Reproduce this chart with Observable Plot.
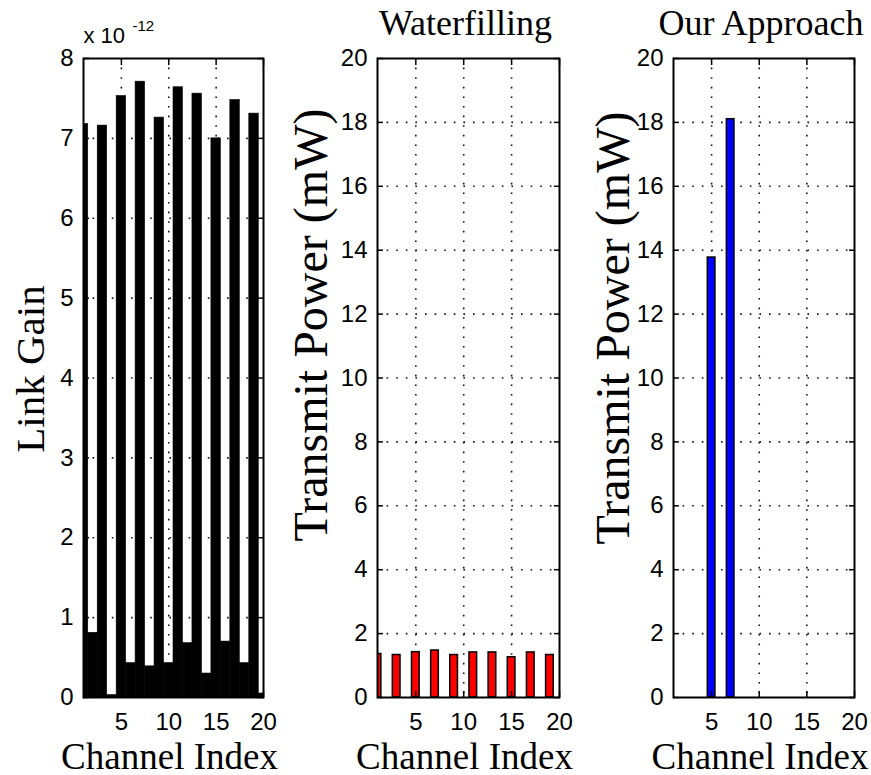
<!DOCTYPE html>
<html><head><meta charset="utf-8">
<script src="https://cdn.jsdelivr.net/npm/d3@7"></script>
<script src="https://cdn.jsdelivr.net/npm/@observablehq/plot@0.6"></script>
<style>
body{margin:0;background:#fff;}
#wrap{position:relative;width:871px;height:775px;overflow:hidden;background:#fff;}
#wrap > svg{position:absolute;top:0;}
</style></head><body><div id="wrap"></div>
<script>
// Channel indices
const channels = [1,2,3,4,5,6,7,8,9,10,11,12,13,14,15,16,17,18,19,20];
// Link gain (x 10^-12)
const linkGain = [7.18,0.81,7.16,0.03,7.53,0.43,7.71,0.39,7.26,0.43,7.64,0.68,7.56,0.30,7.00,0.70,7.48,0.43,7.31,0.05];
// Transmit power (mW)
const waterfillingPower = [1.36,0,1.33,0,1.42,0,1.47,0,1.33,0,1.41,0,1.41,0,1.26,0,1.41,0,1.33,0];
const ourApproachPower  = [0,0,0,0,13.77,0,18.1,0,0,0,0,0,0,0,0,0,0,0,0,0];
// Tick labels
const xTicks = [5,10,15,20];
const gainTicks = [0,1,2,3,4,5,6,7,8];
const powerTicks = [0,2,4,6,8,10,12,14,16,18,20];

const SANS = "Liberation Sans, Arial, sans-serif";
const SERIF = "Liberation Serif, Times New Roman, serif";
const H = 775, MT = 58, MB = 78;

function panel(o) {
  const data = channels.map((ch, i) => ({ch, v: o.values[i]}));
  const yMax = o.yTicks[o.yTicks.length - 1];
  const gridStyle = {stroke: "#111", strokeOpacity: 1, strokeWidth: 1.6, strokeDasharray: "1.6,8"};
  const marks = [
    Plot.gridX(xTicks.filter(t => t < 20), gridStyle),
    Plot.gridY(o.yTicks.filter(t => t > 0 && t < yMax), gridStyle),
    Plot.rect(data, {
      x1: d => d.ch - o.barWidth / 2, x2: d => d.ch + o.barWidth / 2,
      y1: 0, y2: "v", fill: o.fill, stroke: "black", strokeWidth: o.strokeWidth, clip: true
    }),
    Plot.frame({stroke: "black", strokeWidth: 2}),
    Plot.axisX(xTicks, {anchor: "bottom", tickSize: -6, tickPadding: 21, tickFormat: d => String(d), fontSize: 24, fontFamily: SANS, label: null, strokeWidth: 1.5}),
    Plot.axisX(xTicks, {anchor: "top", tickSize: -6, tickFormat: () => "", label: null, strokeWidth: 1.5}),
    Plot.axisY(o.yTicks, {anchor: "left", tickSize: -6, tickPadding: 16, tickFormat: d => String(d), fontSize: 24, fontFamily: SANS, label: null, strokeWidth: 1.5}),
    Plot.axisY(o.yTicks, {anchor: "right", tickSize: -6, tickFormat: () => "", label: null, strokeWidth: 1.5}),
    Plot.text(["Channel Index"], {frameAnchor: "bottom", textAnchor: "middle", lineAnchor: "bottom", dx: -4, dy: 71, fontSize: 37, fontFamily: SERIF, fill: "black"}),
    Plot.text([o.ylabel], {frameAnchor: "left", textAnchor: "middle", rotate: -90, lineAnchor: "middle", dx: o.ylDx, dy: o.ylDy, fontSize: o.ylSize, fontFamily: SERIF, fill: "black"})
  ];
  if (o.title) marks.push(Plot.text([o.title], {frameAnchor: "top", textAnchor: "middle", lineAnchor: "bottom", dx: -3, dy: -24, fontSize: 36, fontFamily: SERIF, fill: "black"}));
  if (o.exponent) {
    marks.push(Plot.text(["x 10"], {frameAnchor: "top-left", textAnchor: "start", lineAnchor: "bottom", dy: -16, fontSize: 22, fontFamily: SANS, fill: "black"}));
    marks.push(Plot.text([o.exponent], {frameAnchor: "top-left", textAnchor: "start", lineAnchor: "bottom", dx: 49, dy: -28, fontSize: 15, fontFamily: SANS, fill: "black"}));
  }
  const svg = Plot.plot({
    width: o.width, height: H,
    marginLeft: o.ml, marginRight: o.mr, marginTop: MT, marginBottom: MB,
    style: {background: "transparent", color: "black", overflow: "visible"},
    x: {domain: [1, 20], axis: null},
    y: {domain: [0, yMax], axis: null},
    marks
  });
  svg.style.left = o.left + "px";
  return svg;
}

const wrap = document.getElementById("wrap");
wrap.append(
  panel({left: 0, width: 290, ml: 83, mr: 27, values: linkGain, yTicks: gainTicks, fill: "black", strokeWidth: 0.6, barWidth: 1,
         ylabel: "Link Gain", ylSize: 41, ylDx: -53, ylDy: -9, exponent: "-12"}),
  panel({left: 290, width: 290, ml: 87, mr: 21, values: waterfillingPower, yTicks: powerTicks, fill: "#ff0000", strokeWidth: 1.5, barWidth: 0.8,
         ylabel: "Transmit Power (mW)", ylSize: 48, ylDx: -66, ylDy: -53, title: "Waterfilling"}),
  panel({left: 580, width: 291, ml: 93, mr: 17, values: ourApproachPower, yTicks: powerTicks, fill: "#0000ff", strokeWidth: 1.5, barWidth: 0.8,
         ylabel: "Transmit Power (mW)", ylSize: 48, ylDx: -60, ylDy: -50, title: "Our Approach"})
);
</script></body></html>
